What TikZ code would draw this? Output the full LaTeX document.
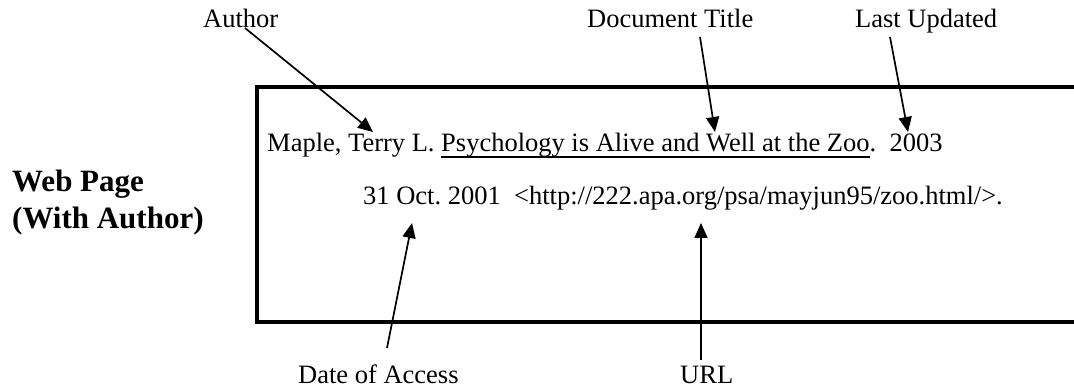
\documentclass[tikz,border=0pt]{standalone}
\usepackage{fontspec}
\setmainfont{Liberation Serif}
\newcommand\myul[1]{\leavevmode\setbox0\hbox{#1}\rlap{\rule[-5.8pt]{\wd0}{1.8pt}}\box0}
\frenchspacing
\usetikzlibrary{arrows.meta}
\tikzset{
  lbl/.style={font=\fontsize{26.5}{32}\selectfont, inner sep=0pt, anchor=base west},
  ttl/.style={font=\fontsize{31}{37}\selectfont\bfseries, inner sep=0pt, anchor=base west},
  pointer/.style={line width=1.7pt, -{Triangle[length=15pt,width=13pt]}},
  frame/.style={line width=4pt}
}
\begin{document}
\begin{tikzpicture}[x=1pt,y=-1pt]
\useasboundingbox (0,0) rectangle (1074,390);
% frame (open on the right)
\draw[frame] (1090,87) -- (257,87) -- (257,322) -- (1090,322);
% title
\node[ttl] (t1) at (12,192) {Web Page};
\node[ttl] (t2) at (12,229) {(With Author)};
% citation lines
\node[lbl] (l1) at (267,152) {\frenchspacing Maple, Terry L. \myul{Psychology is Alive and Well at the Zoo}.\hspace{0.5em}2003};
\node[lbl] (l2) at (363,205) {\frenchspacing 31 Oct. 2001\hspace{0.5em}<http://222.apa.org/psa/mayjun95/zoo.html/>.};
% labels
\node[lbl] (au) at (203,28) {Author};
\node[lbl] (dt) at (587,28) {Document Title};
\node[lbl] (lu) at (855,28) {Last Updated};
\node[lbl] (da) at (298,383) {Date of Access};
\node[lbl] (ur) at (680,383) {URL};
% pointer ends
\coordinate (auS) at (245,28);  \coordinate (auT) at (373,132);
\coordinate (dtS) at (700,37);  \coordinate (dtT) at (715,132);
\coordinate (luS) at (890,37);  \coordinate (luT) at (908,132);
\coordinate (daS) at (387,348); \coordinate (daT) at (412,223);
\coordinate (urS) at (701,360); \coordinate (urT) at (701,223);
\draw[pointer] (auS) -- (auT);
\draw[pointer] (dtS) -- (dtT);
\draw[pointer] (luS) -- (luT);
\draw[pointer] (daS) -- (daT);
\draw[pointer] (urS) -- (urT);
\end{tikzpicture}
\end{document}
